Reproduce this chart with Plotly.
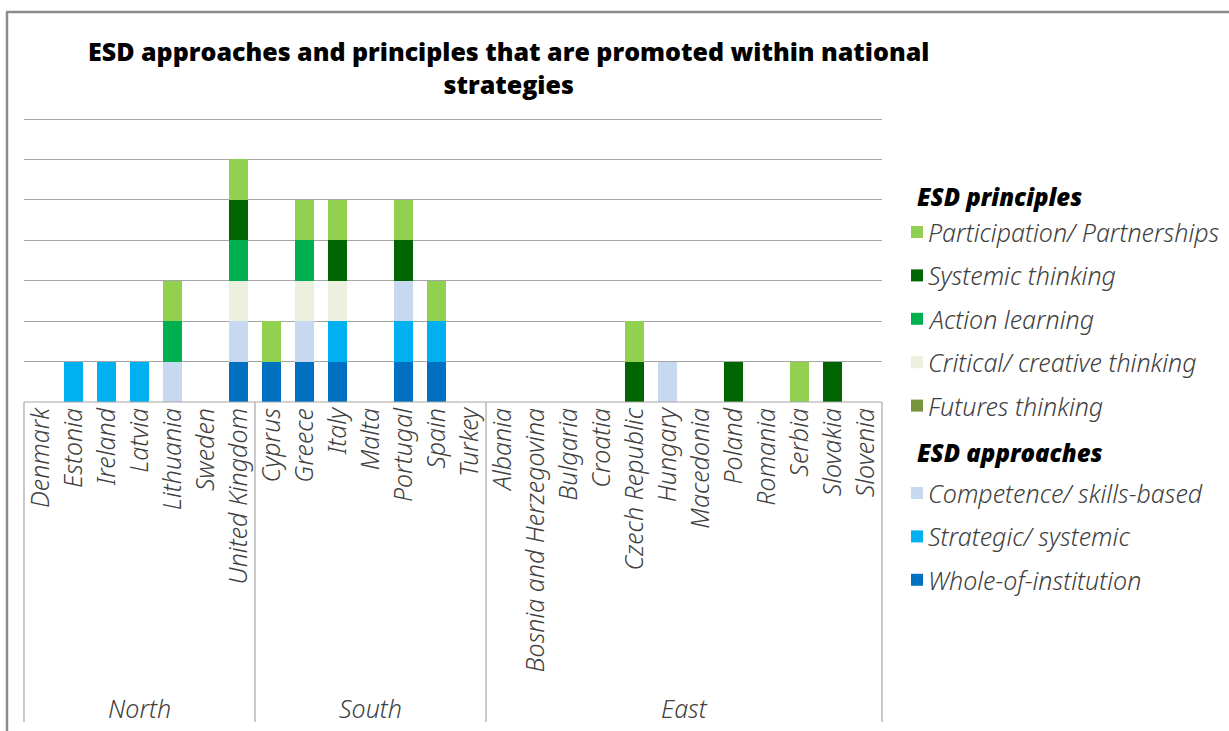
import plotly.graph_objects as go

# ---------------- data ----------------
north = ["Denmark", "Estonia", "Ireland", "Latvia", "Lithuania", "Sweden", "United Kingdom"]
south = ["Cyprus", "Greece", "Italy", "Malta", "Portugal", "Spain", "Turkey"]
east = ["Albania", "Bosnia and Herzegovina", "Bulgaria", "Croatia", "Czech Republic", "Hungary",
        "Macedonia", "Poland", "Romania", "Serbia", "Slovakia", "Slovenia"]
groups = ["North", "South", "East"]
countries = north + south + east

# values per country (order as countries above), stacked bottom -> top
whole_of_institution = [0, 0, 0, 0, 0, 0, 1,  1, 1, 1, 0, 1, 1, 0,  0, 0, 0, 0, 0, 0, 0, 0, 0, 0, 0, 0]
strategic_systemic   = [0, 1, 1, 1, 0, 0, 0,  0, 0, 1, 0, 1, 1, 0,  0, 0, 0, 0, 0, 0, 0, 0, 0, 0, 0, 0]
competence_skills    = [0, 0, 0, 0, 1, 0, 1,  0, 1, 0, 0, 1, 0, 0,  0, 0, 0, 0, 0, 1, 0, 0, 0, 0, 0, 0]
futures_thinking     = [0, 0, 0, 0, 0, 0, 0,  0, 0, 0, 0, 0, 0, 0,  0, 0, 0, 0, 0, 0, 0, 0, 0, 0, 0, 0]
critical_creative    = [0, 0, 0, 0, 0, 0, 1,  0, 1, 1, 0, 0, 0, 0,  0, 0, 0, 0, 0, 0, 0, 0, 0, 0, 0, 0]
action_learning      = [0, 0, 0, 0, 1, 0, 1,  0, 1, 0, 0, 0, 0, 0,  0, 0, 0, 0, 0, 0, 0, 0, 0, 0, 0, 0]
systemic_thinking    = [0, 0, 0, 0, 0, 0, 1,  0, 0, 1, 0, 1, 0, 0,  0, 0, 0, 0, 1, 0, 0, 1, 0, 0, 1, 0]
participation        = [0, 0, 0, 0, 1, 0, 1,  1, 1, 1, 0, 1, 1, 0,  0, 0, 0, 0, 1, 0, 0, 0, 0, 1, 0, 0]

stack_names = ["Whole-of-institution", "Strategic/ systemic", "Competence/ skills-based",
               "Futures thinking", "Critical/ creative thinking", "Action learning",
               "Systemic thinking", "Participation/ Partnerships"]
stack_values = [whole_of_institution, strategic_systemic, competence_skills, futures_thinking,
                critical_creative, action_learning, systemic_thinking, participation]
colors = {
    "Participation/ Partnerships": "#92D050",
    "Systemic thinking": "#006400",
    "Action learning": "#00B050",
    "Critical/ creative thinking": "#EBF1DE",
    "Futures thinking": "#77933C",
    "Competence/ skills-based": "#C6D9F1",
    "Strategic/ systemic": "#00B0F0",
    "Whole-of-institution": "#0070C0",
}
legend_sections = [
    ("ESD principles", ["Participation/ Partnerships", "Systemic thinking", "Action learning",
                        "Critical/ creative thinking", "Futures thinking"]),
    ("ESD approaches", ["Competence/ skills-based", "Strategic/ systemic", "Whole-of-institution"]),
]
title_text = "ESD approaches and principles that are promoted within national<br>strategies"

# ---------------- layout geometry ----------------
W, H = 1229, 731
Y_MAX = 7.05
L, R, B = 24, 882, 402
T = 119 - (Y_MAX - 7) * (402 - 119) / 7
TXT_FONT = dict(family="Noto Sans", size=25, color="#404040", style="italic", weight=300)
GRID = "#A6A6A6"


def px2x(px):
    return (px - L) / (R - L)


def py2y(py):
    return (B - py) / (B - T)


fig = go.Figure()
for name, vals in zip(stack_names, stack_values):
    fig.add_trace(go.Bar(x=countries, y=vals, name=name, marker_color=colors[name],
                         marker_line_width=0, showlegend=False))

fig.update_layout(
    width=W, height=H,
    margin=dict(l=L, r=W - R, t=T, b=H - B),
    barmode="stack", bargap=0.4,
    plot_bgcolor="white", paper_bgcolor="white",
    xaxis=dict(type="category", categoryorder="array", categoryarray=countries,
               tickangle=-90, ticks="", showgrid=False, showline=False, zeroline=False,
               tickfont=TXT_FONT, range=[-0.5, len(countries) - 0.5]),
    yaxis=dict(range=[0, Y_MAX], tickvals=[1, 2, 3, 4, 5, 6, 7], showticklabels=False, showgrid=True,
               gridcolor=GRID, gridwidth=1.2, zeroline=False, showline=False, ticks=""),
)

# baseline of the category box
fig.add_shape(type="line", xref="paper", yref="paper", x0=0, x1=1, y0=py2y(B), y1=py2y(B),
              line=dict(color=GRID, width=1.2))

# group dividers and labels
n = len(countries)
bounds = [0]
for g in (north, south, east):
    bounds.append(bounds[-1] + len(g))
y_bottom = py2y(722)
for b in bounds:
    fig.add_shape(type="line", xref="paper", yref="paper", x0=b / n, x1=b / n,
                  y0=y_bottom, y1=0, line=dict(color=GRID, width=1.2))
for gname, g0, g1 in zip(groups, bounds[:-1], bounds[1:]):
    fig.add_annotation(x=(g0 + g1) / 2 / n, y=py2y(708), xref="paper", yref="paper",
                       text=gname, showarrow=False, xanchor="center", yanchor="middle",
                       font=TXT_FONT)

# title
fig.add_annotation(x=px2x(508), y=py2y(67), xref="paper", yref="paper", text=title_text,
                   showarrow=False, xanchor="center", yanchor="middle", align="center",
                   font=dict(family="Open Sans", size=25, color="black", weight=800))

# custom legend
header_y = [196, 453]
first_offset = [36, 40]
item_step = 43.4
for (header, items), hy, off in zip(legend_sections, header_y, first_offset):
    fig.add_annotation(x=px2x(915), y=py2y(hy), xref="paper", yref="paper", text=header,
                       showarrow=False, xanchor="left", yanchor="middle",
                       font=dict(family="Open Sans", size=24, color="black", weight=800, style="italic"))
    for k, item in enumerate(items):
        cy = hy + off + k * item_step
        fig.add_shape(type="rect", xref="paper", yref="paper",
                      x0=px2x(911), x1=px2x(923), y0=py2y(cy + 6), y1=py2y(cy - 6),
                      fillcolor=colors[item], line_width=0)
        fig.add_annotation(x=px2x(926), y=py2y(cy), xref="paper", yref="paper", text=item,
                           showarrow=False, xanchor="left", yanchor="middle", font=TXT_FONT)

# outer frame (left and top edges)
fig.add_shape(type="line", xref="paper", yref="paper", x0=px2x(7), x1=px2x(7),
              y0=py2y(731), y1=py2y(12), line=dict(color="#8C8C8C", width=2.5))
fig.add_shape(type="line", xref="paper", yref="paper", x0=px2x(6), x1=px2x(1229),
              y0=py2y(12), y1=py2y(12), line=dict(color="#8C8C8C", width=2.5))

fig.write_html("out.html", config={"displayModeBar": False},
               post_script="document.body.style.margin='0';")
